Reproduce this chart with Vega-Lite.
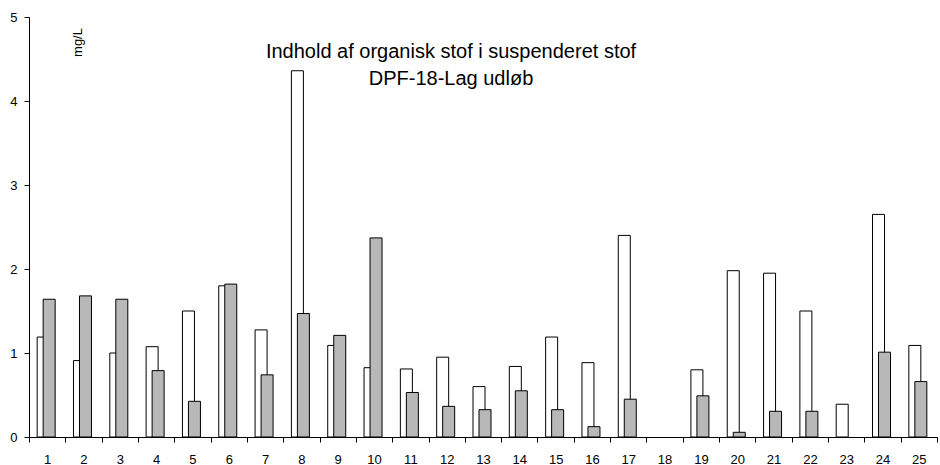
{
  "$schema": "https://vega.github.io/schema/vega-lite/v6.json",
  "width": 908,
  "height": 420,
  "autosize": {"type": "none"},
  "padding": {"left": 29, "top": 17, "right": 3, "bottom": 28},
  "background": "white",
  "config": {"view": {"stroke": null}, "font": "Liberation Sans"},
  "title": {
    "text": ["Indhold af organisk stof i suspenderet stof", "DPF-18-Lag udløb"],
    "fontSize": 20,
    "fontWeight": "normal",
    "color": "black",
    "anchor": "middle",
    "baseline": "alphabetic",
    "lineHeight": 27,
    "offset": 0,
    "dx": -32,
    "dy": 94
  },
  "data": {
    "values": [
      {"n": 1, "s": "a", "v": 1.19}, {"n": 1, "s": "b", "v": 1.64},
      {"n": 2, "s": "a", "v": 0.91}, {"n": 2, "s": "b", "v": 1.68},
      {"n": 3, "s": "a", "v": 1.0}, {"n": 3, "s": "b", "v": 1.64},
      {"n": 4, "s": "a", "v": 1.075}, {"n": 4, "s": "b", "v": 0.79},
      {"n": 5, "s": "a", "v": 1.5}, {"n": 5, "s": "b", "v": 0.425},
      {"n": 6, "s": "a", "v": 1.8}, {"n": 6, "s": "b", "v": 1.82},
      {"n": 7, "s": "a", "v": 1.275}, {"n": 7, "s": "b", "v": 0.74},
      {"n": 8, "s": "a", "v": 4.36}, {"n": 8, "s": "b", "v": 1.47},
      {"n": 9, "s": "a", "v": 1.09}, {"n": 9, "s": "b", "v": 1.21},
      {"n": 10, "s": "a", "v": 0.825}, {"n": 10, "s": "b", "v": 2.37},
      {"n": 11, "s": "a", "v": 0.81}, {"n": 11, "s": "b", "v": 0.53},
      {"n": 12, "s": "a", "v": 0.95}, {"n": 12, "s": "b", "v": 0.365},
      {"n": 13, "s": "a", "v": 0.6}, {"n": 13, "s": "b", "v": 0.325},
      {"n": 14, "s": "a", "v": 0.84}, {"n": 14, "s": "b", "v": 0.55},
      {"n": 15, "s": "a", "v": 1.19}, {"n": 15, "s": "b", "v": 0.325},
      {"n": 16, "s": "a", "v": 0.885}, {"n": 16, "s": "b", "v": 0.123},
      {"n": 17, "s": "a", "v": 2.4}, {"n": 17, "s": "b", "v": 0.45},
      {"n": 19, "s": "a", "v": 0.8}, {"n": 19, "s": "b", "v": 0.49},
      {"n": 20, "s": "a", "v": 1.98}, {"n": 20, "s": "b", "v": 0.056},
      {"n": 21, "s": "a", "v": 1.95}, {"n": 21, "s": "b", "v": 0.306},
      {"n": 22, "s": "a", "v": 1.5}, {"n": 22, "s": "b", "v": 0.306},
      {"n": 23, "s": "a", "v": 0.39},
      {"n": 24, "s": "a", "v": 2.65}, {"n": 24, "s": "b", "v": 1.01},
      {"n": 25, "s": "a", "v": 1.09}, {"n": 25, "s": "b", "v": 0.66}
    ]
  },
  "encoding": {
    "x": {
      "field": "n",
      "type": "ordinal",
      "scale": {
        "domain": [1,2,3,4,5,6,7,8,9,10,11,12,13,14,15,16,17,18,19,20,21,22,23,24,25],
        "paddingInner": 0,
        "paddingOuter": 0
      },
      "axis": {
        "title": null,
        "labelAngle": 0,
        "labelFontSize": 13,
        "labelColor": "black",
        "labelPadding": 11,
        "tickBand": "extent",
        "tickSize": 5,
        "tickColor": "black",
        "domainColor": "black",
        "grid": false
      }
    },
    "y": {
      "field": "v",
      "type": "quantitative",
      "scale": {"domain": [0, 5], "nice": false},
      "axis": {
        "title": "mg/L",
        "titleAngle": -90,
        "titleFontSize": 13,
        "titleFontWeight": "normal",
        "titleColor": "black",
        "titleX": 48,
        "titleY": 25,
        "titleAlign": "center",
        "titleBaseline": "middle",
        "values": [0, 1, 2, 3, 4, 5],
        "labelFontSize": 13,
        "labelColor": "black",
        "labelPadding": 7,
        "tickSize": 5,
        "tickColor": "black",
        "domainColor": "black",
        "grid": false
      }
    }
  },
  "layer": [
    {
      "transform": [{"filter": "datum.s == 'a'"}],
      "mark": {"type": "bar", "width": 12, "xOffset": -4, "fill": "white", "stroke": "black", "strokeWidth": 1}
    },
    {
      "transform": [{"filter": "datum.s == 'b'"}],
      "mark": {"type": "bar", "width": 12, "xOffset": 2, "fill": "#b8b8b8", "stroke": "black", "strokeWidth": 1}
    }
  ]
}
